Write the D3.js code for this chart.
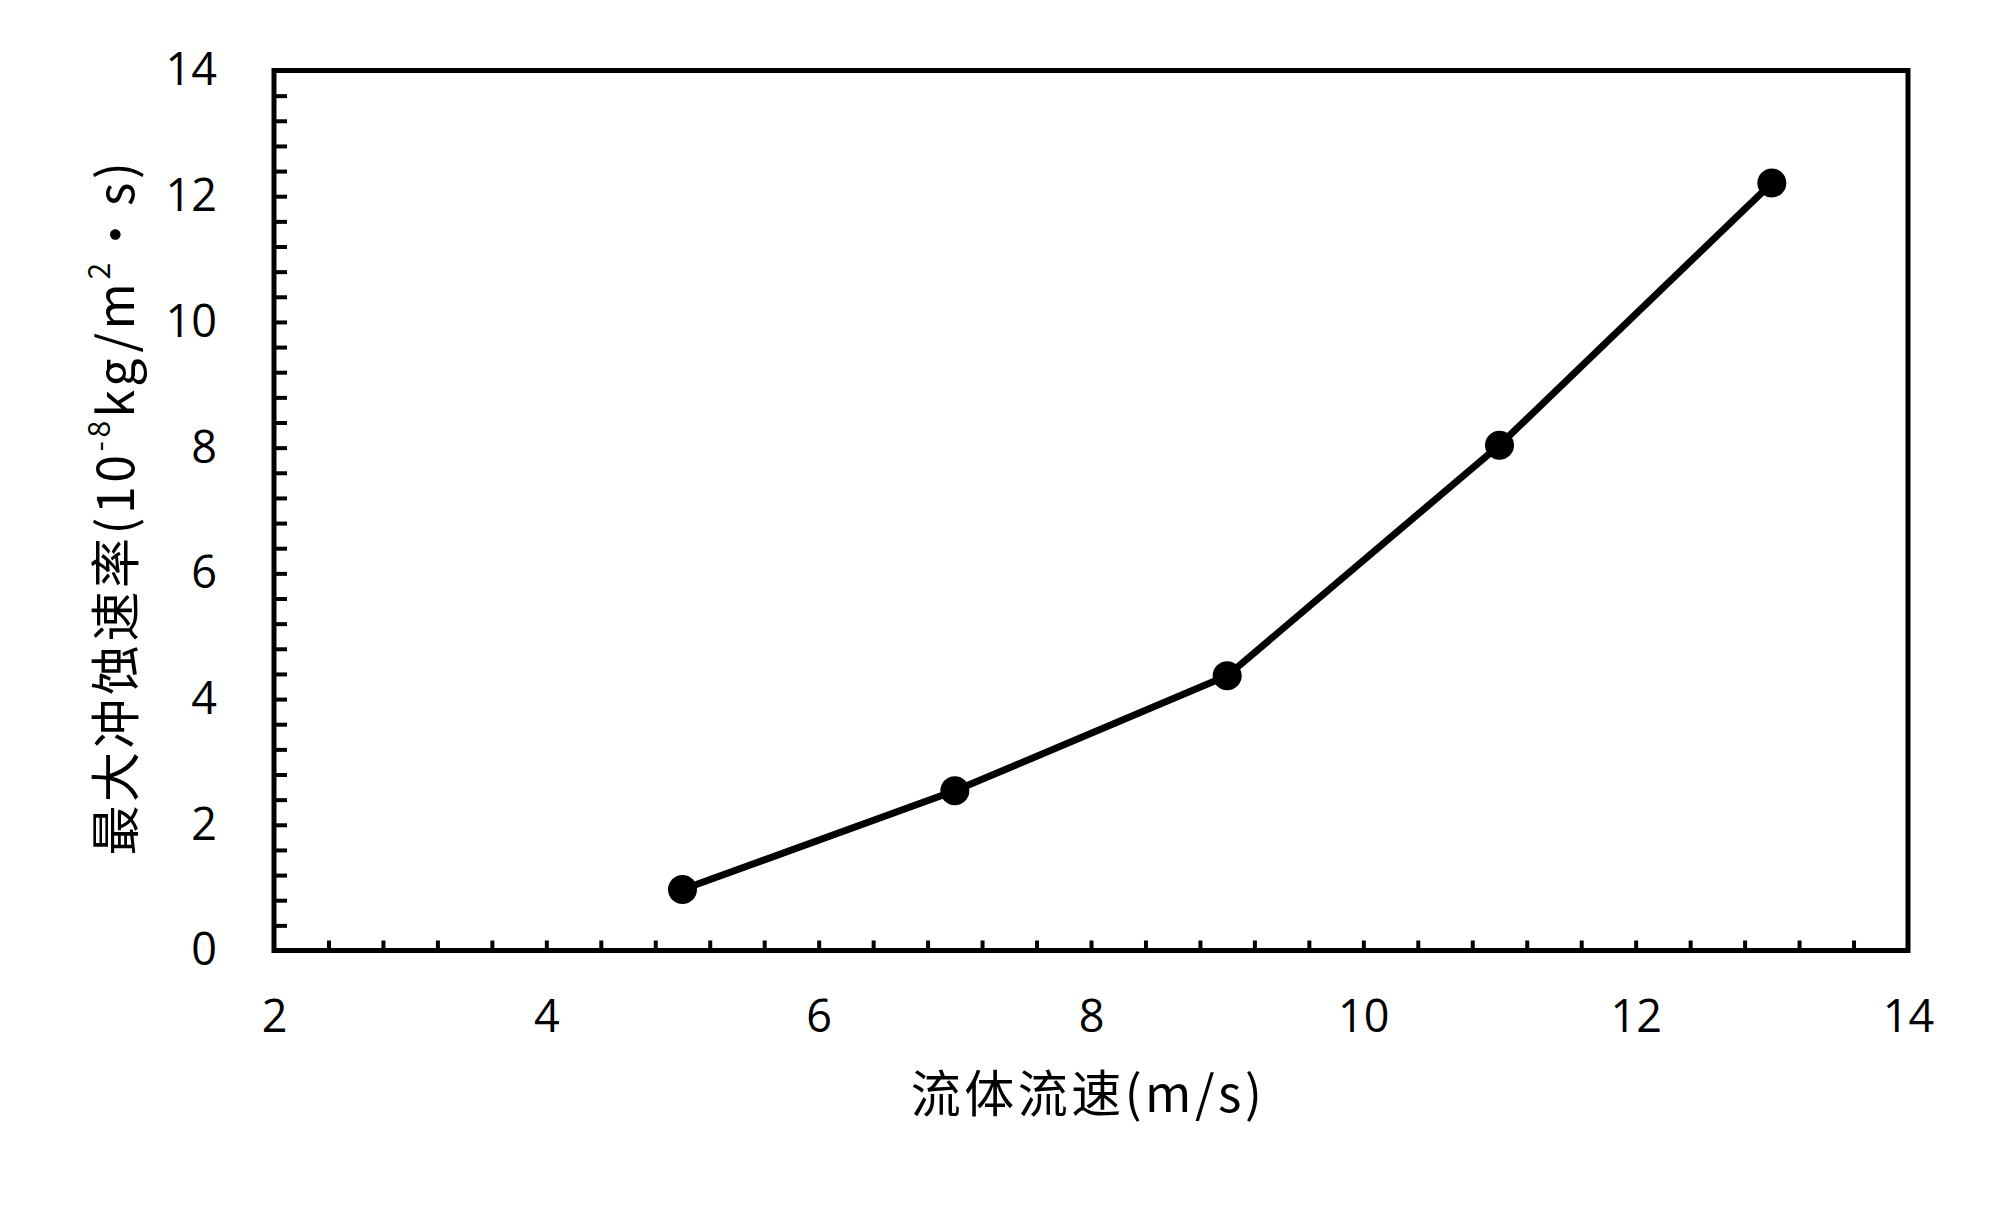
<!DOCTYPE html>
<html>
<head>
<meta charset="utf-8">
<script src="https://cdn.jsdelivr.net/npm/d3@7"></script>
<style>
  body { margin: 0; background: #fff; }
  .tick text { font-family: "Open Sans", sans-serif; font-size: 45px; fill: #000; }
  .title { font-family: "Noto Sans CJK SC", sans-serif; font-size: 50px; fill: #000; letter-spacing: 3.5px; }
</style>
</head>
<body>
<script>

// flow velocity (m/s)
var speeds = [5, 7, 9, 11, 13];
// max erosion rate (1e-8 kg/m2 s)
var rates = [0.97, 2.54, 4.37, 8.04, 12.21];

var xTicks = [2, 4, 6, 8, 10, 12, 14];
var yTicks = [0, 2, 4, 6, 8, 10, 12, 14];

var width = 2000,
    height = 1209,
    plotLeft = 274,
    plotRight = 1908,
    plotTop = 70.5,
    plotBottom = 950.5;

var svg = d3.select("body").append("svg")
    .attr("width", width)
    .attr("height", height);

var x = d3.scaleLinear().domain([2, 14]).range([plotLeft, plotRight]);
var y = d3.scaleLinear().domain([0, 14]).range([plotBottom, plotTop]);

// minor ticks, every 0.4, pointing inwards
var xMinor = d3.range(1, 30).map(function(i) { return 2 + i * 0.4; });
var yMinor = d3.range(1, 35).map(function(i) { return i * 0.4; });

svg.append("g")
    .attr("transform", "translate(0," + plotBottom + ")")
    .call(d3.axisBottom(x).tickValues(xMinor).tickSize(-10).tickFormat(""))
    .call(function(g) {
        g.select(".domain").remove();
        g.selectAll("line").attr("stroke", "#000").attr("stroke-width", 4);
    });

svg.append("g")
    .attr("transform", "translate(" + plotLeft + ",0)")
    .call(d3.axisLeft(y).tickValues(yMinor).tickSize(-13).tickFormat(""))
    .call(function(g) {
        g.select(".domain").remove();
        g.selectAll("line").attr("stroke", "#000").attr("stroke-width", 4);
    });

// labels
svg.append("g")
    .attr("transform", "translate(0," + plotBottom + ")")
    .call(d3.axisBottom(x).tickValues(xTicks).tickSize(0).tickPadding(50))
    .call(function(g) { g.select(".domain").remove(); });

svg.append("g")
    .attr("transform", "translate(" + plotLeft + ",0)")
    .call(d3.axisLeft(y).tickValues(yTicks).tickSize(0).tickPadding(57))
    .call(function(g) { g.select(".domain").remove(); });

// frame
svg.append("rect")
    .attr("x", plotLeft)
    .attr("y", plotTop)
    .attr("width", plotRight - plotLeft)
    .attr("height", plotBottom - plotTop)
    .attr("fill", "none")
    .attr("stroke", "#000")
    .attr("stroke-width", 5);

var pts = speeds.map(function(s, i) { return [s, rates[i]]; });

svg.append("path")
    .datum(pts)
    .attr("fill", "none")
    .attr("stroke", "#000")
    .attr("stroke-width", 7)
    .attr("d", d3.line().x(function(d) { return x(d[0]); }).y(function(d) { return y(d[1]); }));

svg.selectAll(".dot")
    .data(pts)
    .enter().append("circle")
    .attr("class", "dot")
    .attr("cx", function(d) { return x(d[0]); })
    .attr("cy", function(d) { return y(d[1]); })
    .attr("r", 14.5)
    .attr("fill", "#000");

// axis titles
svg.append("text")
    .attr("class", "title")
    .attr("x", 1088)
    .attr("y", 1094)
    .attr("dy", "0.35em")
    .attr("text-anchor", "middle")
    .text("流体流速(m/s)");

var yt = svg.append("text")
    .attr("class", "title")
    .attr("transform", "translate(116,507) rotate(-90)")
    .attr("dy", "0.35em")
    .attr("text-anchor", "middle");
yt.append("tspan").text("最大冲蚀速率(10");
yt.append("tspan").attr("font-size", "30px").attr("dy", "-0.8em").text("-8");
yt.append("tspan").attr("dy", "0.48em").text("kg/m");
yt.append("tspan").attr("font-size", "30px").attr("dy", "-0.8em").text("2");
yt.append("tspan").attr("dy", "0.48em").text("・s)");

</script>
</body>
</html>
